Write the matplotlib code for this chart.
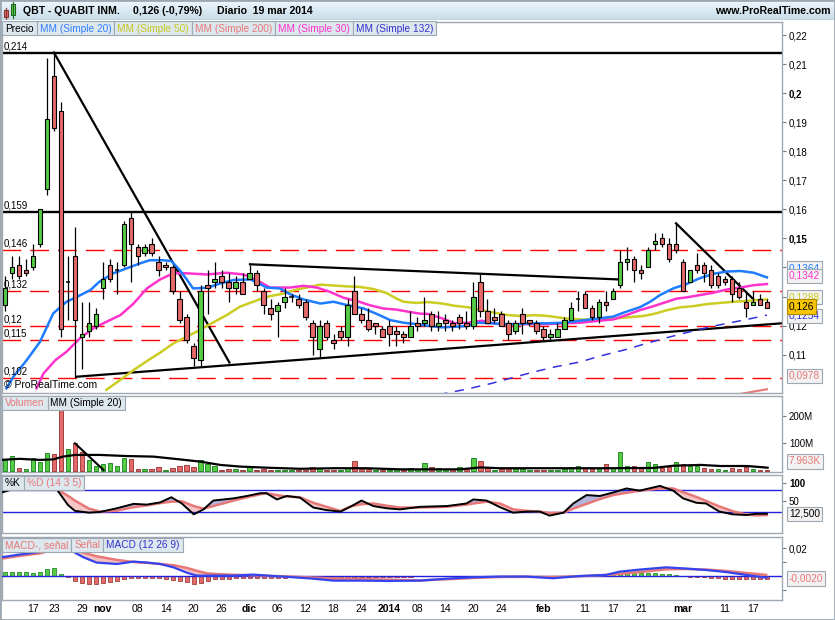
import numpy as np
import matplotlib
matplotlib.use("Agg")
import matplotlib.pyplot as plt
from matplotlib.patches import Rectangle
from matplotlib.colors import LinearSegmentedColormap

plt.rcParams['font.family'] = ['Liberation Sans', 'DejaVu Sans']
plt.rcParams['font.size'] = 7

# ---- daily OHLC, bar 0 = 14 oct 2013 ... bar 109 = 19 mar 2014
opens = [0.127, 0.138, 0.141, 0.139, 0.140, 0.148, 0.167, 0.206, 0.194, 0.135,
         0.144, 0.116, 0.118, 0.120, 0.133, 0.141, 0.139, 0.141, 0.157, 0.147,
         0.145, 0.148, 0.142, 0.141, 0.140, 0.129, 0.123, 0.113, 0.108, 0.134,
         0.135, 0.137, 0.135, 0.133, 0.135, 0.136, 0.138, 0.132, 0.126, 0.125,
         0.128, 0.130, 0.129, 0.128, 0.121, 0.112, 0.121, 0.115, 0.118, 0.116,
         0.132, 0.124, 0.122, 0.121, 0.119, 0.120, 0.118, 0.117, 0.116, 0.121,
         0.121, 0.124, 0.120, 0.122, 0.121, 0.123, 0.121, 0.120, 0.135, 0.125,
         0.123, 0.124, 0.121, 0.118, 0.124, 0.122, 0.121, 0.119, 0.116, 0.116,
         0.119, 0.122, 0.129, 0.131, 0.126, 0.123, 0.128, 0.129, 0.134, 0.142,
         0.143, 0.139, 0.140, 0.148, 0.150, 0.148, 0.148, 0.142, 0.135, 0.141,
         0.141, 0.139, 0.137, 0.136, 0.136, 0.133, 0.128, 0.127, 0.129, 0.128]
highs = [0.137, 0.144, 0.144, 0.143, 0.148, 0.160, 0.212, 0.214, 0.197, 0.144,
         0.154, 0.128, 0.128, 0.126, 0.142, 0.143, 0.142, 0.156, 0.159, 0.148,
         0.148, 0.150, 0.144, 0.142, 0.141, 0.132, 0.124, 0.114, 0.134, 0.139,
         0.142, 0.139, 0.138, 0.137, 0.138, 0.141, 0.139, 0.133, 0.129, 0.128,
         0.133, 0.131, 0.131, 0.129, 0.122, 0.122, 0.122, 0.117, 0.120, 0.129,
         0.137, 0.126, 0.126, 0.121, 0.120, 0.122, 0.120, 0.118, 0.125, 0.123,
         0.130, 0.125, 0.125, 0.124, 0.122, 0.124, 0.125, 0.135, 0.138, 0.129,
         0.126, 0.125, 0.122, 0.122, 0.126, 0.122, 0.122, 0.120, 0.119, 0.121,
         0.123, 0.128, 0.132, 0.132, 0.127, 0.129, 0.132, 0.133, 0.146, 0.147,
         0.144, 0.141, 0.147, 0.152, 0.152, 0.150, 0.155, 0.143, 0.139, 0.145,
         0.142, 0.141, 0.138, 0.137, 0.137, 0.135, 0.132, 0.132, 0.131, 0.129]
lows = [0.125, 0.136, 0.136, 0.137, 0.139, 0.147, 0.165, 0.187, 0.116, 0.122,
        0.102, 0.105, 0.116, 0.119, 0.129, 0.135, 0.131, 0.140, 0.135, 0.141,
        0.144, 0.144, 0.137, 0.139, 0.131, 0.121, 0.114, 0.106, 0.106, 0.124,
        0.133, 0.133, 0.128, 0.131, 0.131, 0.136, 0.132, 0.124, 0.122, 0.116,
        0.126, 0.128, 0.126, 0.122, 0.110, 0.109, 0.115, 0.112, 0.115, 0.113,
        0.124, 0.121, 0.118, 0.117, 0.116, 0.113, 0.113, 0.114, 0.116, 0.118,
        0.120, 0.118, 0.118, 0.118, 0.118, 0.119, 0.119, 0.119, 0.123, 0.121,
        0.121, 0.120, 0.115, 0.117, 0.117, 0.120, 0.117, 0.115, 0.115, 0.116,
        0.119, 0.122, 0.125, 0.126, 0.122, 0.121, 0.125, 0.129, 0.133, 0.139,
        0.135, 0.136, 0.140, 0.146, 0.147, 0.142, 0.145, 0.132, 0.135, 0.138,
        0.135, 0.133, 0.133, 0.134, 0.128, 0.129, 0.123, 0.127, 0.127, 0.126]
closes = [0.133, 0.140, 0.137, 0.138, 0.144, 0.160, 0.191, 0.188, 0.119, 0.135,
          0.122, 0.117, 0.121, 0.124, 0.136, 0.136, 0.139, 0.155, 0.148, 0.144,
          0.147, 0.145, 0.139, 0.140, 0.132, 0.122, 0.115, 0.109, 0.132, 0.133,
          0.136, 0.135, 0.133, 0.135, 0.131, 0.138, 0.134, 0.127, 0.124, 0.127,
          0.130, 0.130, 0.127, 0.123, 0.116, 0.120, 0.116, 0.114, 0.116, 0.127,
          0.124, 0.122, 0.119, 0.120, 0.116, 0.117, 0.117, 0.116, 0.120, 0.120,
          0.122, 0.120, 0.121, 0.121, 0.120, 0.121, 0.120, 0.130, 0.125, 0.121,
          0.122, 0.120, 0.117, 0.121, 0.121, 0.121, 0.118, 0.116, 0.117, 0.119,
          0.122, 0.126, 0.129, 0.126, 0.123, 0.128, 0.127, 0.132, 0.142, 0.143,
          0.139, 0.138, 0.146, 0.149, 0.148, 0.143, 0.146, 0.132, 0.139, 0.139,
          0.138, 0.134, 0.134, 0.135, 0.131, 0.130, 0.126, 0.128, 0.127, 0.126]
volume_m = [40, 54, 10, 6, 46, 34, 64, 61, 300, 79,
            102, 70, 40, 18, 25, 28, 18, 48, 43, 6,
            7, 6, 13, 4, 10, 18, 22, 13, 40, 25,
            18, 4, 6, 6, 4, 13, 4, 6, 4, 2,
            2, 2, 2, 2, 13, 10, 2, 2, 2, 10,
            37, 6, 6, 4, 4, 4, 6, 2, 10, 8,
            28, 13, 10, 6, 6, 13, 6, 46, 36, 10,
            4, 6, 6, 6, 6, 4, 2, 2, 2, 4,
            6, 15, 19, 11, 6, 6, 24, 11, 67, 19,
            19, 15, 34, 24, 10, 13, 31, 24, 19, 19,
            10, 6, 6, 4, 10, 7, 13, 6, 4, 4]

# ---- moving averages (bar position, price)
sma20_x = [0.2, 1.2, 3.1, 5.0, 6.9, 8.8, 10.3, 12.2, 13.5, 15.5, 17.4, 19.3, 20.7, 22.6, 23.8, 25.0,
           26.0, 26.9, 28.9, 30.8, 32.7, 35.1, 36.5, 37.4, 39.3, 40.8, 42.7, 45.1, 47.0, 48.9, 51.3,
           53.2, 55.1, 57.0, 58.9, 60.6, 62.5, 64.4, 66.3, 67.7, 69.6, 71.5, 73.4, 75.4, 77.7, 80.1,
           82.3, 85.1, 87.0, 88.9, 90.8, 92.3, 93.7, 95.6, 97.5, 99.4, 101.3, 103.2, 105.2, 107.1, 109.0]
sma20_y = [0.0984, 0.1024, 0.1081, 0.1144, 0.1242, 0.1282, 0.1299, 0.1322, 0.1351, 0.1380, 0.1397,
           0.1414, 0.1425, 0.1425, 0.1422, 0.1391, 0.1359, 0.1328, 0.1330, 0.1345, 0.1357, 0.1359,
           0.1343, 0.1331, 0.1328, 0.1308, 0.1290, 0.1276, 0.1282, 0.1271, 0.1259, 0.1240, 0.1219,
           0.1210, 0.1205, 0.1199, 0.1194, 0.1196, 0.1199, 0.1210, 0.1208, 0.1205, 0.1205, 0.1208,
           0.1208, 0.1210, 0.1217, 0.1225, 0.1231, 0.1248, 0.1263, 0.1282, 0.1305, 0.1328, 0.1343,
           0.1363, 0.1378, 0.1386, 0.1388, 0.1382, 0.1366]
sma30_x = [4.5, 5.5, 7.2, 8.8, 10.7, 12.6, 14.5, 16.5, 18.4, 20.3, 22.2, 24.1, 26.0, 28.9, 31.7, 34.1,
           36.0, 37.9, 40.8, 42.7, 44.6, 46.5, 48.4, 50.3, 52.2, 54.1, 56.0, 57.9, 59.4, 60.6, 62.5,
           64.4, 66.3, 68.2, 70.6, 73.0, 75.4, 77.7, 80.1, 82.3, 85.1, 87.0, 88.9, 90.8, 92.8, 94.7,
           96.1, 97.5, 99.4, 101.3, 103.2, 105.2, 107.1, 109.0]
sma30_y = [0.0984, 0.1035, 0.1081, 0.1110, 0.1156, 0.1190, 0.1213, 0.1236, 0.1276, 0.1328, 0.1359,
           0.1380, 0.1380, 0.1376, 0.1382, 0.1376, 0.1357, 0.1331, 0.1331, 0.1337, 0.1331, 0.1316,
           0.1296, 0.1285, 0.1270, 0.1259, 0.1255, 0.1247, 0.1241, 0.1240, 0.1225, 0.1208, 0.1210,
           0.1217, 0.1205, 0.1205, 0.1205, 0.1205, 0.1208, 0.1210, 0.1217, 0.1221, 0.1236, 0.1253,
           0.1267, 0.1282, 0.1293, 0.1297, 0.1305, 0.1313, 0.1324, 0.1331, 0.1339, 0.1343]
sma50_x = [14.5, 16.5, 18.4, 20.3, 22.2, 24.1, 26.0, 27.9, 29.8, 31.7, 33.6, 35.5, 37.4, 39.8, 41.7,
           43.6, 45.1, 47.0, 48.9, 50.8, 52.7, 54.6, 56.0, 57.0, 58.9, 60.6, 62.5, 64.4, 66.3, 68.2,
           70.1, 72.0, 73.9, 75.8, 77.7, 80.1, 82.3, 85.1, 87.0, 88.9, 91.3, 92.8, 94.7, 96.6, 98.5,
           100.4, 102.3, 104.2, 106.1, 109.0]
sma50_y = [0.0979, 0.1013, 0.1047, 0.1078, 0.1107, 0.1139, 0.1162, 0.1185, 0.1211, 0.1236, 0.1265,
           0.1282, 0.1299, 0.1310, 0.1324, 0.1333, 0.1341, 0.1338, 0.1335, 0.1333, 0.1326, 0.1312,
           0.1293, 0.1282, 0.1278, 0.1281, 0.1276, 0.1268, 0.1263, 0.1253, 0.1244, 0.1236, 0.1233,
           0.1236, 0.1233, 0.1225, 0.1221, 0.1221, 0.1224, 0.1228, 0.1233, 0.1240, 0.1253, 0.1263,
           0.1267, 0.1274, 0.1278, 0.1282, 0.1285, 0.1290]
sma132_x = [62.0, 65.8, 69.6, 72.5, 75.4, 78.7, 82.3, 85.1, 88.9, 91.8, 95.1, 98.5, 101.3, 106.1, 109.0]
sma132_y = [0.0962, 0.0980, 0.1001, 0.1020, 0.1039, 0.1058, 0.1075, 0.1095, 0.1118, 0.1139, 0.1161,
            0.1182, 0.1198, 0.1221, 0.1236]
sma200_x = [104.5, 106.2, 109.0]
sma200_y = [0.0962, 0.0969, 0.0981]

# drawn trend lines (bar position, price) pairs
trend_lines = [((7, 0.214), (32.1, 0.1073)),
               ((10.2, 0.1024), (111.2, 0.1208)),
               ((35.05, 0.1411), (87.7, 0.1359)),
               ((96, 0.1552), (107.1, 0.129))]
black_levels = [0.214, 0.159]
red_levels = [0.146, 0.132, 0.12, 0.115, 0.102]
level_labels = ['0,214', '0,159', '0,146', '0,132', '0,12', '0,115', '0,102']

volma_x = [-0.7, 2.1, 5.0, 6.9, 8.3, 10.0, 13.6, 17.4, 21.2, 25.0, 27.9, 30.8, 33.6, 37.4, 42.2, 47.0,
           51.7, 56.5, 59.4, 65.1, 68.0, 70.8, 78.5, 86.2, 92.8, 95.6, 99.5, 102.4, 106.2, 109.1]
volma_y = [40, 44, 40, 42, 52, 58, 58, 54, 52, 42, 34, 22, 16, 12, 8, 10, 10, 6, 6, 6, 13, 10, 10, 10,
           11, 19, 22, 18, 18, 12]
vol_trend = ((10.0, 100), (14.1, 3.6))

# stochastic %K / %D
stoch_x = [-0.5, 2, 4, 5.5, 7.5, 9, 10, 12, 13.6, 16, 18.4, 20.3, 22.2, 23.8, 25.3, 27, 28.4, 29.8,
           32.7, 34.6, 36.5, 37.4, 38.9, 40.3, 42.2, 44.1, 46, 48, 49.4, 51, 52.7, 54.6, 56.5, 59.4,
           63.2, 66, 67, 68.9, 70.8, 72.7, 74.6, 76.5, 77.9, 79.9, 81.3, 83.2, 85.1, 87, 88.9, 90.8,
           93.7, 95.6, 97, 98.9, 100.3, 102.2, 104.1, 106, 107.5, 109]
stoch_k = [74, 88, 95, 100, 80, 40, 24, 19, 21, 31, 43, 41, 47, 61, 44, 14.5, 28, 52, 58, 64.5, 72,
           72, 55, 64.5, 60, 33, 26, 22, 35, 52, 37, 31, 28, 35, 37, 44, 55, 52, 34, 19, 22, 22, 11,
           19, 44, 67, 64.5, 74, 85, 79, 92, 79, 58, 46, 44, 22, 14.5, 12.6, 16, 16]
stoch_d = [79, 84, 90, 95, 82, 65, 52, 30, 22, 24.5, 34, 39, 45, 49, 50, 37, 30, 37, 52, 61, 69, 72,
           67, 63, 61, 46, 35, 23.5, 36, 42, 44, 38, 33, 33, 35, 41, 44, 49, 44, 28, 24, 22, 18, 19,
           30, 43, 56, 67, 73, 79, 85, 85, 75, 62, 51, 36, 23, 14, 11.5, 12.6]

# MACD (12 26 9)
macd_x = [-0.5, 2, 5, 7, 8.5, 9.3, 11.2, 13.1, 16, 18.4, 20.3, 22.2, 24.1, 26, 27.4, 28.9, 30.3, 32.7,
          35.5, 38.4, 41.3, 44.1, 47, 50.8, 54.6, 59.4, 63.2, 67, 70.8, 74.6, 78.4, 82.2, 86, 87.9,
          90.8, 94.6, 97.5, 100.3, 103.2, 106, 108.9]
macd_line = [0.0136, 0.0155, 0.0174, 0.0215, 0.0215, 0.0188, 0.0136, 0.0098, 0.0088, 0.0105, 0.0098,
             0.0088, 0.0064, 0.0026, 0.0005, 0.0005, 0.0005, 0.0005, 0.0012, 0.0002, -0.0007, -0.0017,
             -0.0031, -0.0031, -0.0033, -0.0031, -0.0017, -0.0007, -0.0002, -0.0002, -0.0014, 0.0002,
             0.0010, 0.0033, 0.0048, 0.0064, 0.0055, 0.0045, 0.0030, 0.0010, -0.0010]
macd_signal = [0.0126, 0.0145, 0.0164, 0.0190, 0.0200, 0.0198, 0.0170, 0.0143, 0.0117, 0.0102, 0.0096,
               0.0088, 0.0079, 0.0060, 0.0040, 0.0021, 0.0016, 0.0011, 0.0007, 0.0002, -0.0003,
               -0.0009, -0.0017, -0.0020, -0.0024, -0.0029, -0.0021, -0.0012, -0.0005, -0.0004,
               -0.0005, 0.0000, 0.0010, 0.0017, 0.0030, 0.0050, 0.0052, 0.0048, 0.0038, 0.0024, 0.0010]
macd_hist = [0.0033, 0.0033, 0.0029, 0.0029, 0.0021, 0.0029, 0.0052, 0.0060, 0.0014, -0.0007,
             -0.0031, -0.0050, -0.0057, -0.0057, -0.0050, -0.0038, -0.0033, -0.0021, -0.0014, -0.0014,
             -0.0014, -0.0014, -0.0014, -0.0021, -0.0026, -0.0031, -0.0038, -0.0055, -0.0045, -0.0031,
             -0.0021, -0.0017, -0.0017, -0.0014, -0.0010, -0.0014, -0.0010, -0.0014, -0.0014, -0.0014,
             -0.0014, -0.0007, -0.0007, -0.0007, -0.0010, -0.0007, -0.0012, -0.0017, -0.0017, -0.0017,
             -0.0007, -0.0005, -0.0007, -0.0005, -0.0007, -0.0007, -0.0005, -0.0005, -0.0005, 0.0005,
             0.0005, 0.0005, 0.0005, 0.0005, 0.0005, 0.0005, 0.0005, 0.0005, 0.0005, 0.0005,
             0.0005, 0.0, 0.0, 0.0, 0.0, 0.0, 0.0, 0.0, 0.0, 0.0,
             0.0003, 0.0003, 0.0003, 0.0003, 0.0003, 0.0003, 0.0003, 0.0017, 0.0017, 0.0021,
             0.0021, 0.0021, 0.0021, 0.0021, 0.0014, 0.0014, 0.0010, 0.0, -0.0007, -0.0007,
             -0.0007, -0.0012, -0.0014, -0.0017, -0.0019, -0.0021, -0.0021, -0.0021, -0.0021, -0.0019]

tick_pos = [4, 7, 11, 14, 19, 23, 27, 31, 35, 39, 43, 47, 51, 55, 59, 63, 67, 71, 77, 83, 87, 91, 97, 103, 107]
tick_lab = ['17', '23', '29', 'nov', '08', '14', '20', '26', 'dic', '06', '12', '18', '24', '2014',
            '08', '14', '20', '24', 'feb', '11', '17', '21', 'mar', '11', '17']
month_labels = ['nov', 'dic', '2014', 'feb', 'mar']

W, H = 835, 620
BAR_W = 0.66
GREEN = '#55cc44'
RED = '#e46a6a'
FRAME = '#9ea8b2'
SALMON = '#e87878'

fig = plt.figure(figsize=(W / 100, H / 100), dpi=100)
renderer = fig.canvas.get_renderer()


def add_ax(y0, y1):
    ax = fig.add_axes([2 / W, 1 - y1 / H, 780 / W, (y1 - y0) / H])
    for s in ax.spines.values():
        s.set_color(FRAME)
        s.set_linewidth(1)
    ax.set_xlim(-0.43, 111.16)
    ax.tick_params(axis='x', length=0, labelbottom=False)
    ax.yaxis.tick_right()
    ax.tick_params(axis='y', direction='out', length=3, width=0.8, color='#707880', pad=2, labelsize=7)
    return ax


def legend_row(y0, items, h=14):
    x = 2
    for txt, col in items:
        t = fig.text(0, 0, txt, color=col, fontsize=7.3, va='center', ha='left', zorder=21)
        w = t.get_window_extent(renderer).width
        bw = w + 6
        fig.add_artist(Rectangle((x / W, 1 - (y0 + h) / H), bw / W, h / H, transform=fig.transFigure,
                                 fc='#dde7ee', ec=FRAME, lw=0.8, zorder=20))
        t.set_position(((x + 3) / W, 1 - (y0 + h / 2 + 0.5) / H))
        x += bw


def value_box(y_px, txt, tcol, fc='#f2f2f2', ec=FRAME, z=22):
    fig.text(789 / W, 1 - y_px / H, txt, color=tcol, fontsize=7.3, va='center', ha='left', zorder=z,
             bbox=dict(boxstyle='square,pad=0.2', fc=fc, ec=ec, lw=0.8))


# ---------------- header
hax = fig.add_axes([0, 1 - 20 / H, 1, 20 / H])
grad = np.linspace(0, 1, 20).reshape(-1, 1)
hax.imshow(grad, cmap=LinearSegmentedColormap.from_list('hdr', ['#eef7fc', '#c8dde9']),
           aspect='auto', extent=[0, W, 20, 0])
hax.set_xlim(0, W)
hax.set_ylim(20, 0)
hax.axis('off')
hax.plot([5.5, 5.5], [8, 19], color='#883333', lw=0.8)
hax.add_patch(Rectangle((3.5, 10), 4, 7, fc=RED, ec='#883333', lw=0.8))
hax.plot([12.5, 12.5], [2, 18], color='#226622', lw=0.8)
hax.add_patch(Rectangle((10.5, 4), 4, 11, fc=GREEN, ec='#226622', lw=0.8))
hax.text(23, 11, 'QBT - QUABIT INM.', fontsize=7.6, fontweight='bold', va='center')
hax.text(133, 11, '0,126 (-0,79%)', fontsize=7.6, fontweight='bold', va='center')
hax.text(217, 11, 'Diario  19 mar 2014', fontsize=7.6, fontweight='bold', va='center')
hax.text(831, 11, 'www.ProRealTime.com', fontsize=7.6, fontweight='bold', va='center', ha='right')
hax.axhline(19.5, color=FRAME, lw=1)

# ---------------- price panel
ax = add_ax(22, 393)
ax.set_ylim(0.0968, 0.2245)
yt = [0.11, 0.12, 0.13, 0.14, 0.15, 0.16, 0.17, 0.18, 0.19, 0.2, 0.21, 0.22]
ax.set_yticks(yt)
ax.set_yticklabels([('%g' % v).replace('.', ',') for v in yt])
for lab, v in zip(ax.get_yticklabels(), yt):
    if v in (0.15, 0.2):
        lab.set_fontweight('bold')

for lv in red_levels:
    ax.axhline(lv, color='#ff0000', lw=1, dashes=(13.5, 6.5), zorder=1)
for lv in black_levels:
    ax.axhline(lv, color='black', lw=1.7, zorder=2)
for lv, lab in zip(black_levels + red_levels, level_labels):
    ax.annotate(lab, xy=(0, lv), xycoords=('axes fraction', 'data'), xytext=(1.5, 1),
                textcoords='offset points', va='bottom', ha='left', fontsize=7)

for (x0, y0), (x1, y1) in trend_lines:
    ax.plot([x0, x1], [y0, y1], color='black', lw=1.6, zorder=2)

ax.plot(sma132_x, sma132_y, color='#3333dd', lw=1.1, dashes=(6, 5), zorder=2)
ax.plot(sma200_x, sma200_y, color=SALMON, lw=1.5, zorder=2)
ax.plot(sma50_x, sma50_y, color='#cccc22', lw=1.8, zorder=2)
ax.plot(sma30_x, sma30_y, color='#ff33cc', lw=1.8, zorder=2)
ax.plot(sma20_x, sma20_y, color='#1e7cff', lw=1.8, zorder=2)

for i in range(len(opens)):
    o, h, l, c = opens[i], highs[i], lows[i], closes[i]
    ax.vlines(i, l, h, color='black', lw=0.9, zorder=3)
    if c == o:
        ax.hlines(c, i - BAR_W / 2, i + BAR_W / 2, color='black', lw=1.1, zorder=4)
    else:
        col = GREEN if c > o else RED
        ax.add_patch(Rectangle((i - BAR_W / 2, min(o, c)), BAR_W, abs(c - o), fc=col, ec='black',
                               lw=0.8, zorder=4))

ax.text(0.003, 0.008, '\u00a9 ProRealTime.com', transform=ax.transAxes, fontsize=7.5,
        va='bottom', ha='left', zorder=5)

value_box(268.5, '0,1364', '#1e7cff')
value_box(276, '0,1342', '#ff33cc')
value_box(297, '0,1288', '#cccc22')
value_box(316, '0,1254', '#3333dd')
value_box(306.5, '0,126', 'black', fc='#f7c600', ec='#b08a00', z=23)
value_box(376, '0,0978', SALMON)

# ---------------- volume panel
vax = add_ax(396, 472)
vax.set_ylim(-3.6, 270.8)
vax.set_yticks([100, 200])
vax.set_yticklabels(['100M', '200M'])
for i, v in enumerate(volume_m):
    up = i == 0 or closes[i] >= closes[i - 1]
    vax.bar(i, v, width=BAR_W, bottom=0, color=GREEN if up else RED,
            edgecolor='#2a8a2a' if up else '#a04040', lw=0.7, zorder=3)
vax.plot(volma_x, volma_y, color='black', lw=1.6, zorder=4)
vax.plot([vol_trend[0][0], vol_trend[1][0]], [vol_trend[0][1], vol_trend[1][1]],
         color='black', lw=1.5, zorder=4)
value_box(461.5, '7.963K', SALMON)

# ---------------- stochastic panel
sax = add_ax(475, 533)
sax.set_ylim(-36.4, 121.7)
sax.set_yticks([50, 100])
sax.set_yticklabels(['50', '100'])
sax.get_yticklabels()[1].set_fontweight('bold')
sax.axhline(80, color='#2222dd', lw=1)
sax.axhline(20, color='#2222dd', lw=1)
sk = np.array(stoch_k)
sd = np.array(stoch_d)
sax.fill_between(stoch_x, sk, sd, where=sd >= sk, interpolate=True, color='#f5c6c6', lw=0)
sax.fill_between(stoch_x, sk, sd, where=sk > sd, interpolate=True, color='#b4b4dc', lw=0)
sax.plot(stoch_x, stoch_d, color=SALMON, lw=1.8, zorder=3)
sax.plot(stoch_x, stoch_k, color='black', lw=1.4, zorder=4)
value_box(514, '12,500', 'black')

# ---------------- MACD panel
max_ = add_ax(537, 600)
max_.set_ylim(-0.01693, 0.02807)
max_.set_yticks([-0.01, 0.01, 0.02])
max_.set_yticklabels(['', '', '0,02'])
mh = np.array(macd_hist)
max_.bar(range(len(mh)), mh, width=0.6, color=np.where(mh >= 0, '#55cc44', '#e46a6a'),
         edgecolor=np.where(mh >= 0, '#2a8a2a', '#a04040'), lw=0.6, zorder=2)
ml = np.array(macd_line)
ms = np.array(macd_signal)
max_.fill_between(macd_x, ml, ms, where=ms >= ml, interpolate=True, color='#f5c0c0', lw=0, zorder=1)
max_.fill_between(macd_x, ml, ms, where=ml > ms, interpolate=True, color='#bde8b4', lw=0, zorder=1)
max_.axhline(0, color='#2222dd', lw=1, zorder=3)
max_.plot(macd_x, macd_signal, color=SALMON, lw=1.8, zorder=4)
max_.plot(macd_x, macd_line, color='#3344ee', lw=1.6, zorder=5)
value_box(578.5, '-0,0020', SALMON)

max_.set_xticks(tick_pos)
max_.set_xticklabels(tick_lab)
max_.tick_params(axis='x', length=0, labelbottom=True, pad=3, labelsize=7.5)
for lab in max_.get_xticklabels():
    if lab.get_text() in month_labels:
        lab.set_fontweight('bold')

# ---------------- panel legends
legend_row(21, [('Precio', 'black'), ('MM (Simple 20)', '#3380ff'), ('MM (Simple 50)', '#c8c820'),
                ('MM (Simple 200)', SALMON), ('MM (Simple 30)', '#ff33cc'), ('MM (Simple 132)', '#3333cc')])
legend_row(396, [('Volumen', SALMON), ('MM (Simple 20)', 'black')])
legend_row(476, [('%K', 'black'), ('%D (14 3 5)', SALMON)])
legend_row(538, [('MACD-, se\u00f1al', SALMON), ('Se\u00f1al', SALMON), ('MACD (12 26 9)', '#3333cc')])

fig.add_artist(Rectangle((0, 0), 1, 1, transform=fig.transFigure, fill=False, ec=FRAME, lw=2, zorder=30))

fig.savefig('out.png', dpi=100)
